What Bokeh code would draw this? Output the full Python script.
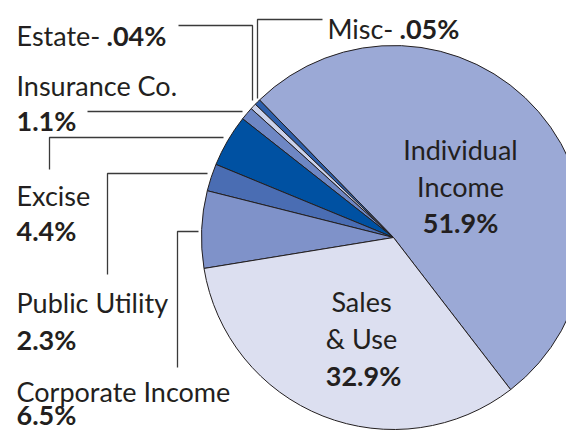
import math
from bokeh.plotting import figure
from bokeh.models import Range1d, ColumnDataSource
from bokeh.core.properties import value
from bokeh.embed import file_html
from bokeh.resources import INLINE

# ---- data ----
categories = ["Individual Income", "Misc", "Estate", "Insurance Co.", "Excise",
              "Public Utility", "Corporate Income", "Sales & Use"]
shares = [51.9, 0.05, 0.04, 1.1, 4.4, 2.3, 6.5, 32.9]
pct_labels = ["51.9%", ".05%", ".04%", "1.1%", "4.4%", "2.3%", "6.5%", "32.9%"]

# ---- style / layout ----
colors = ["#9BA9D6", "#2C5EAB", "#CBD2EB", "#6E87C4", "#0051A2",
          "#4A6DB3", "#7F92C9", "#DCDFF0"]
W, H = 566, 431
OX, OY = 0, 8
FONT = "Lato"
FS_PX = 27
FS = f"{FS_PX}px"
CAP = 0.72 * FS_PX      # cap height, used for top-anchored text
INK = "#231F20"
MIN_SHOW = 0.5          # tiny slices drawn with a minimum visible width
START_DEG = -52.4       # boundary between Individual Income and Sales & Use


def X(px):
    return px - OX


def Y(py):
    return H + OY - py


cx, cy, R = X(393), Y(245), 192

shown = [max(v, MIN_SHOW) for v in shares]
tot = sum(shown)
starts, ends = [], []
a = math.radians(START_DEG)
for v in shown:
    d = 2 * math.pi * v / tot
    starts.append(a)
    ends.append(a + d)
    a += d

p = figure(width=W, height=H, output_backend="svg", toolbar_location=None,
           x_range=Range1d(0, W), y_range=Range1d(0, H), min_border=0)
p.axis.visible = False
p.grid.visible = False
p.outline_line_color = None
p.background_fill_color = "white"
p.border_fill_color = "white"

src = ColumnDataSource(dict(cat=categories, start=starts, end=ends, color=colors))
p.wedge(x=cx, y=cy, radius=R, start_angle="start", end_angle="end",
        fill_color="color", line_color=INK, line_width=1, source=src)

# leader lines (pixel coordinates from top-left of the reference)
leaders = [
    [(178, 33), (252, 33), (252, 108)],
    [(322, 27), (257, 27), (257, 106)],
    [(87, 119), (242, 119)],
    [(49, 177), (49, 145), (223, 145)],
    [(107, 282), (107, 181), (207, 181)],
    [(177, 375), (177, 239), (198, 239)],
]
for pts in leaders:
    p.line([X(q[0]) for q in pts], [Y(q[1]) for q in pts],
           line_color="#3A3A3A", line_width=1.3)

idx = {c: i for i, c in enumerate(categories)}


def txt(px, py, s, bold=False, align="left", top=False):
    if top:
        yy, base = Y(py - CAP), "top"
    else:
        yy, base = Y(py), "alphabetic"
    p.text([X(px)], [yy], text=[s], text_font=value(FONT),
           text_font_size=value(FS), text_color=INK,
           text_font_style="bold" if bold else "normal",
           text_align=align, text_baseline=base)


# outside labels
txt(16, 43, "Estate-")
txt(106, 43, pct_labels[idx["Estate"]], bold=True)
txt(327, 36, "Misc-")
txt(399, 36, pct_labels[idx["Misc"]], bold=True)
txt(16, 93, "Insurance Co.")
txt(16, 128, pct_labels[idx["Insurance Co."]], bold=True)
txt(16, 203, "Excise")
txt(16, 238, pct_labels[idx["Excise"]], bold=True)
txt(16, 310, "Public Utility")
txt(16, 347, pct_labels[idx["Public Utility"]], bold=True)
txt(16, 399, "Corporate Income")
txt(16, 425, pct_labels[idx["Corporate Income"]], bold=True, top=True)

# inside labels
txt(460, 157, "Individual", align="center")
txt(460, 194, "Income", align="center")
txt(460, 230, pct_labels[idx["Individual Income"]], bold=True, align="center")
txt(361, 309, "Sales", align="center")
txt(361, 346, "& Use", align="center")
txt(363, 383, pct_labels[idx["Sales & Use"]], bold=True, align="center")

open("out.html", "w").write(file_html(p, INLINE))
